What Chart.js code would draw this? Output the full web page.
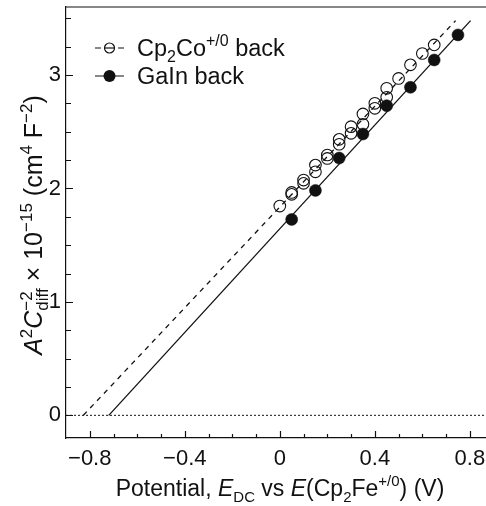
<!DOCTYPE html>
<html>
<head>
<meta charset="utf-8">
<script src="https://cdn.jsdelivr.net/npm/chart.js@4/dist/chart.umd.min.js"></script>
<style>
  html, body { margin: 0; padding: 0; background: #fff; }
</style>
</head>
<body>
<canvas id="graph" width="486" height="506"></canvas>
<script>
// Cp2Co+/0 back contact (open circles)
const potentialCp = [0, 0.05, 0.05, 0.1, 0.1, 0.15, 0.15, 0.2, 0.2, 0.25, 0.25, 0.3, 0.3, 0.35, 0.35, 0.4, 0.4, 0.45, 0.45, 0.5, 0.55, 0.6, 0.65];
const valuesCp = [1.845, 1.948, 1.965, 2.045, 2.074, 2.147, 2.206, 2.265, 2.295, 2.39, 2.433, 2.486, 2.545, 2.566, 2.657, 2.707, 2.751, 2.804, 2.883, 2.97, 3.09, 3.19, 3.266];

// GaIn back contact (filled circles)
const potentialGaIn = [0.05, 0.15, 0.25, 0.35, 0.45, 0.55, 0.65, 0.75];
const valuesGaIn = [1.727, 1.983, 2.268, 2.48, 2.73, 2.892, 3.133, 3.354];

// linear fits, end points
const fitCpX = [-0.827, 0.74];
const fitCpY = [0, 3.48];
const fitGaInX = [-0.72, 0.803];
const fitGaInY = [0, 3.48];

const xTicks = [-0.8, -0.4, 0, 0.4, 0.8];
const yTicks = [0, 1, 2, 3];
const xRange = [-0.9, 0.868];
const yRange = [-0.2, 3.6];

const FONT = '"Liberation Sans", Arial, sans-serif';

const pts = (xs, ys) => xs.map((x, i) => ({ x: x, y: ys[i] }));
const fmt = v => (v < 0 ? '\u2212' : '') + Math.abs(v);

// rich text: segments {t, it, sub, sup, stack:[sup, sub]}
function segFont(s, size, small) {
    return (s.it ? 'italic ' : '') + (small ? Math.round(size * 0.66) : size) + 'px ' + FONT;
}
function segWidth(ctx, s, size) {
    if (s.stack) {
        ctx.font = segFont({}, size, true);
        return Math.max(ctx.measureText(s.stack[0]).width, ctx.measureText(s.stack[1]).width);
    }
    ctx.font = segFont(s, size, s.sub || s.sup);
    return ctx.measureText(s.t).width;
}
function drawRich(ctx, segs, x, y, size, align) {
    let total = 0;
    segs.forEach(s => total += segWidth(ctx, s, size));
    let cx = align === 'center' ? x - total / 2 : x;
    ctx.textBaseline = 'alphabetic';
    ctx.textAlign = 'left';
    ctx.fillStyle = '#111';
    segs.forEach(s => {
        const w = segWidth(ctx, s, size);
        if (s.stack) {
            ctx.font = segFont({}, size, true);
            ctx.fillText(s.stack[0], cx, y - size * 0.42);
            ctx.fillText(s.stack[1], cx, y + size * 0.22);
        } else {
            ctx.font = segFont(s, size, s.sub || s.sup);
            let dy = s.sub ? size * 0.25 : s.sup ? -size * 0.42 : 0;
            ctx.fillText(s.t, cx, y + dy);
        }
        cx += w;
    });
}

const xTitle = [
    { t: 'Potential, ' }, { t: 'E', it: true }, { t: 'DC', sub: true }, { t: ' vs ' },
    { t: 'E', it: true }, { t: '(Cp' }, { t: '2', sub: true }, { t: 'Fe' }, { t: '+/0', sup: true }, { t: ') (V)' }
];
const yTitle = [
    { t: 'A', it: true }, { t: '2', sup: true }, { t: 'C', it: true }, { stack: ['\u22122', 'diff'] },
    { t: ' \u00d7 10' }, { t: '\u221215', sup: true }, { t: ' (cm' }, { t: '4', sup: true },
    { t: ' F' }, { t: '\u22122', sup: true }, { t: ')' }
];
const legendCp = [{ t: 'Cp' }, { t: '2', sub: true }, { t: 'Co' }, { t: '+/0', sup: true }, { t: ' back' }];
const legendGaIn = [{ t: 'GaIn back' }];

const decor = {
    id: 'decor',
    afterDraw(chart) {
        const ctx = chart.ctx;
        const xs = chart.scales.x, ys = chart.scales.y;
        const area = chart.chartArea;
        ctx.save();
        ctx.strokeStyle = '#111';
        ctx.lineWidth = 1.2;

        // top frame
        ctx.beginPath();
        ctx.moveTo(area.left, area.top);
        ctx.lineTo(area.right, area.top);
        ctx.stroke();

        // inward ticks
        ctx.beginPath();
        for (let v = -0.8; v <= xRange[1] + 1e-6; v += 0.1) {
            const major = xTicks.some(t => Math.abs(t - v) < 1e-6);
            const px = Math.round(xs.getPixelForValue(v)) + 0.5;
            ctx.moveTo(px, area.bottom);
            ctx.lineTo(px, area.bottom - (major ? 7 : 4));
        }
        for (let v = 0; v <= yRange[1] + 1e-6; v += 0.25) {
            const major = yTicks.some(t => Math.abs(t - v) < 1e-6);
            const py = Math.round(ys.getPixelForValue(v)) + 0.5;
            ctx.moveTo(area.left, py);
            ctx.lineTo(area.left + (major ? 7 : 5), py);
        }
        ctx.stroke();

        // axis titles
        drawRich(ctx, xTitle, 280, 496, 23, 'center');
        ctx.save();
        ctx.translate(42, 225);
        ctx.rotate(-Math.PI / 2);
        drawRich(ctx, yTitle, 0, 0, 25, 'center');
        ctx.restore();

        // legend
        ctx.lineWidth = 1.2;
        ctx.beginPath();
        ctx.moveTo(95, 48); ctx.lineTo(101, 48);
        ctx.moveTo(118, 48); ctx.lineTo(124, 48);
        ctx.moveTo(95, 76); ctx.lineTo(124, 76);
        ctx.stroke();
        ctx.beginPath();
        ctx.arc(109.5, 48, 5, 0, Math.PI * 2);
        ctx.stroke();
        ctx.beginPath();
        ctx.moveTo(105, 48); ctx.lineTo(114, 48);
        ctx.stroke();
        ctx.fillStyle = '#111';
        ctx.beginPath();
        ctx.arc(109.5, 76, 6, 0, Math.PI * 2);
        ctx.fill();
        drawRich(ctx, legendCp, 137, 56, 23.5, 'left');
        drawRich(ctx, legendGaIn, 137, 84, 23.5, 'left');
        ctx.restore();
    }
};

const chart = new Chart(document.querySelector('#graph').getContext('2d'), {
    type: 'scatter',
    data: {
        datasets: [
            {
                label: 'GaIn back',
                data: pts(potentialGaIn, valuesGaIn),
                pointRadius: 6,
                pointBackgroundColor: '#111',
                pointBorderColor: '#111',
                pointBorderWidth: 0.5
            },
            {
                label: 'Cp2Co back',
                data: pts(potentialCp, valuesCp),
                pointRadius: 5.8,
                pointBackgroundColor: 'rgba(0,0,0,0)',
                pointBorderColor: '#111',
                pointBorderWidth: 1.1
            },
            {
                label: 'fit GaIn',
                data: pts(fitGaInX, fitGaInY),
                showLine: true,
                pointRadius: 0,
                borderColor: '#111',
                borderWidth: 1.3
            },
            {
                label: 'fit Cp2Co',
                data: pts(fitCpX, fitCpY),
                showLine: true,
                pointRadius: 0,
                borderColor: '#111',
                borderWidth: 1.3,
                borderDash: [5, 5]
            },
            {
                label: 'zero',
                data: pts(xRange, [0, 0]),
                showLine: true,
                pointRadius: 0,
                borderColor: '#111',
                borderWidth: 1,
                borderDash: [2, 2]
            }
        ]
    },
    options: {
        responsive: false,
        animation: false,
        devicePixelRatio: 1,
        layout: { autoPadding: false, padding: { top: 7, right: 0, left: 0, bottom: 0 } },
        plugins: {
            legend: { display: false },
            tooltip: { enabled: false }
        },
        scales: {
            x: {
                type: 'linear',
                min: xRange[0],
                max: xRange[1],
                afterBuildTicks: s => { s.ticks = xTicks.map(v => ({ value: v })); },
                afterFit: s => { s.height = 68; s.paddingLeft = 0; s.paddingRight = 0; },
                grid: { display: false, drawTicks: false, tickLength: 0 },
                border: { display: true, color: '#111', width: 1.2 },
                ticks: {
                    color: '#111',
                    padding: 8,
                    maxRotation: 0,
                    font: { family: FONT, size: 22 },
                    callback: v => fmt(v)
                }
            },
            y: {
                type: 'linear',
                min: yRange[0],
                max: yRange[1],
                afterBuildTicks: s => { s.ticks = yTicks.map(v => ({ value: v })); },
                afterFit: s => { s.width = 66; s.paddingTop = 0; s.paddingBottom = 0; },
                grid: { display: false, drawTicks: false, tickLength: 0 },
                border: { display: true, color: '#111', width: 1.2 },
                ticks: {
                    color: '#111',
                    padding: 5,
                    font: { family: FONT, size: 22 },
                    callback: v => fmt(v)
                }
            }
        }
    },
    plugins: [decor]
});
</script>
</body>
</html>
